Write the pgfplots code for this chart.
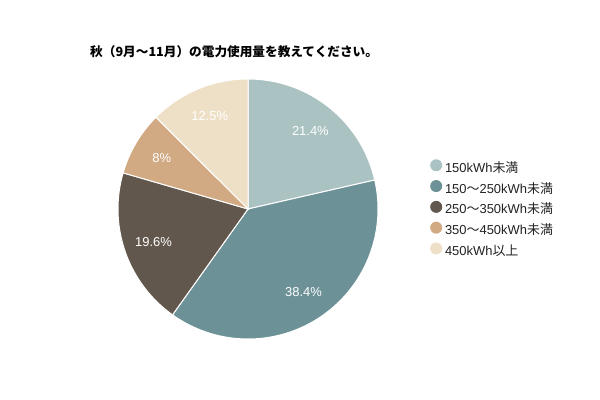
\documentclass[border=0pt]{standalone}
\usepackage{pgfplots}
\pgfplotsset{compat=1.18}
\usepackage{fontspec}
\setmainfont{Liberation Sans}
\newfontfamily\cjk{Noto Sans CJK JP}
\definecolor{c1}{HTML}{AAC2C2}
\definecolor{c2}{HTML}{6C9196}
\definecolor{c3}{HTML}{62574D}
\definecolor{c4}{HTML}{D1A982}
\definecolor{c5}{HTML}{EDE0C6}
\definecolor{legtext}{HTML}{222222}
\newcommand\cumang{0}
\newcommand\total{99.9}
\newcommand\slice[3]{%
  \pgfmathsetmacro\angA{\cumang}%
  \pgfmathsetmacro\angB{\cumang+#1*360/\total}%
  \pgfmathsetmacro\angM{(\angA+\angB)/2}%
  \pgfmathsetmacro\lx{0.77*sin(\angM)}%
  \pgfmathsetmacro\ly{0.77*cos(\angM)}%
  \edef\doslice{\noexpand\addplot[fill=#2, draw=white, line width=1bp, domain=\angA:\angB, samples=80] ({sin(x)},{cos(x)}) -- (axis cs:0,0) -- cycle;}%
  \doslice
  \addlegendentry{#3}%
  \edef\dolabel{\noexpand\node[text=white, font=\noexpand\fontsize{13}{15}\noexpand\selectfont] at (axis cs:\lx,\ly) {#1\noexpand\%};}%
  \dolabel
  \global\let\cumang\angB
}
\begin{document}
\begin{tikzpicture}
\useasboundingbox[fill=white] (0,0) rectangle (600bp,400bp);
\node[anchor=west, inner sep=0pt, font=\cjk\bfseries\fontsize{12.7}{15}\selectfont] at (90bp,348bp) {秋（9月～11月）の電力使用量を教えてください。};
\begin{axis}[
  at={(248bp,191bp)}, anchor=center,
  width=260bp, height=260bp, scale only axis,
  xmin=-1, xmax=1, ymin=-1, ymax=1,
  hide axis, clip=false,
  legend cell align=left,
  legend image code/.code={\fill[#1, draw=none] (0bp,3.5bp) circle[radius=6bp]; \path (8.3bp,3.5bp);},
  legend style={at={(1.2,0.692)}, anchor=north west, draw=none, fill=none,
    font=\fontsize{13}{15}\selectfont, text=legtext, row sep=4.8bp, inner sep=0pt,
    nodes={inner sep=0pt, text height=10bp, text depth=3bp}},
]
\slice{21.4}{c1}{150kWh{\cjk 未満}}
\slice{38.4}{c2}{150{\cjk ～}250kWh{\cjk 未満}}
\slice{19.6}{c3}{250{\cjk ～}350kWh{\cjk 未満}}
\slice{8}{c4}{350{\cjk ～}450kWh{\cjk 未満}}
\slice{12.5}{c5}{450kWh{\cjk 以上}}
\end{axis}
\end{tikzpicture}
\end{document}
